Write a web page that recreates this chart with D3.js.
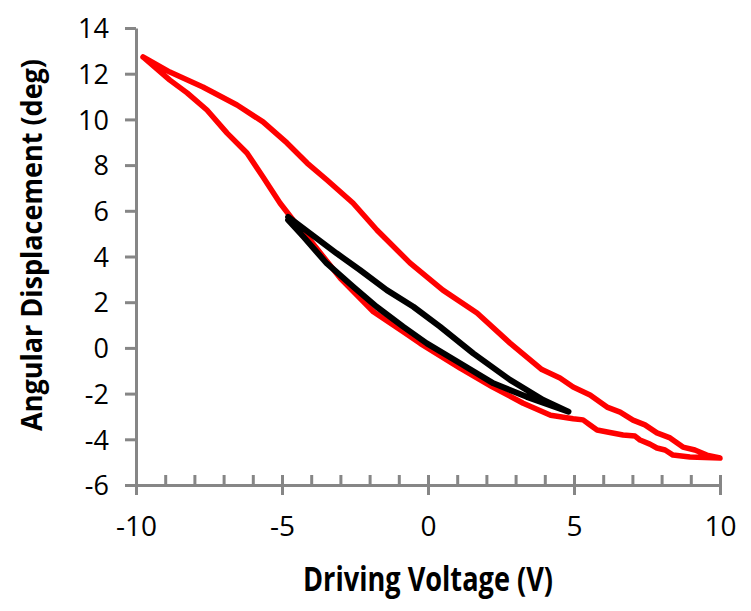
<!DOCTYPE html>
<html>
<head>
<meta charset="utf-8">
<script src="https://cdn.jsdelivr.net/npm/d3@7"></script>
<style>
  body { margin: 0; background: #fff; }
  .tick text { font-family: "Open Sans", "Liberation Sans", sans-serif; fill: #000; }
  .title { font-family: "Open Sans", "Liberation Sans", sans-serif; font-weight: bold; fill: #000; }
</style>
</head>
<body>
<div class="render"></div>
<script>
'use strict';

// red loop: driving voltage (V) and angular displacement (deg), lower branch then upper branch
var redVoltage = [-9.76, -8.84, -8.25, -7.57, -6.88, -6.20, -5.65, -5.07, -4.62, -4.04, -3.0, -1.87, -0.9, -0.27,
   1.10, 2.2, 3.26, 4.2, 4.97, 5.31, 5.55, 5.79, 6.23, 6.68, 7.09, 7.26, 7.60, 7.84, 8.12, 8.39, 8.97, 10.0,
   9.55, 9.14, 8.73, 8.29, 7.84, 7.43, 7.02, 6.58, 6.13, 5.55, 4.97, 4.52, 3.9, 2.81, 1.68, 0.51, -0.62,
   -1.75, -2.57, -3.46, -4.14, -4.83, -5.65, -6.54, -7.71, -8.84, -9.76];
var redAngle = [12.73, 11.72, 11.16, 10.41, 9.40, 8.53, 7.48, 6.34, 5.60, 4.72, 3.05, 1.58, 0.75, 0.20,
   -0.89, -1.7, -2.42, -2.95, -3.10, -3.15, -3.37, -3.59, -3.70, -3.81, -3.86, -4.03, -4.21, -4.38, -4.47, -4.69, -4.77, -4.82,
   -4.69, -4.47, -4.34, -3.94, -3.72, -3.37, -3.16, -2.81, -2.59, -2.06, -1.71, -1.32, -0.95, 0.21, 1.53, 2.53, 3.72,
   5.16, 6.34, 7.35, 8.09, 8.97, 9.89, 10.63, 11.42, 12.07, 12.73];

// black loop: upper branch then lower branch
var blackVoltage = [-4.79, -4.04, -3.13, -2.33, -1.41, -0.50, 0.41, 1.55, 2.81, 3.95, 4.81,
   3.38, 2.24, 1.10, -0.04, -0.85, -1.76, -2.56, -3.47, -4.27, -4.79];
var blackAngle = [5.73, 5.01, 4.14, 3.41, 2.53, 1.80, 0.93, -0.24, -1.40, -2.28, -2.79,
   -2.14, -1.55, -0.67, 0.20, 0.93, 1.80, 2.68, 3.70, 4.87, 5.60];

var xMajor = [-10, -5, 0, 5, 10];
var xMinor = d3.range(-10, 11, 1);
var yTicks = [-6, -4, -2, 0, 2, 4, 6, 8, 10, 12, 14];

function draw() {
   var w = 751;
   var h = 611;
   var axisColor = '#868686';
   var plain = function (d) {
      return String(d);
   };

   var xScale = d3.scaleLinear().domain([-10, 10]).range([136, 720]);
   var yScale = d3.scaleLinear().domain([-6, 14]).range([485, 28]);

   var svg = d3.select('.render').append('svg').attr('width', w).attr('height', h);

   // y axis
   var yAxis = d3.axisLeft(yScale).tickValues(yTicks).tickSize(11).tickSizeOuter(0).tickPadding(16).tickFormat(plain);
   var gy = svg.append('g').attr('transform', 'translate(136,0)').call(yAxis);
   gy.selectAll('text').style('font-size', '27px').attr('dy', '0.36em');

   // x axis: minor ticks pointing up, major ticks crossing
   var xAxisUp = d3.axisTop(xScale).tickValues(xMinor).tickSize(10).tickSizeOuter(0).tickFormat('');
   var gxu = svg.append('g').attr('transform', 'translate(0,485)').call(xAxisUp);
   var xAxis = d3.axisBottom(xScale).tickValues(xMajor).tickSize(10).tickSizeOuter(0).tickPadding(21).tickFormat(plain);
   var gx = svg.append('g').attr('transform', 'translate(0,485)').call(xAxis);
   gx.selectAll('text').style('font-size', '28px');

   [gy, gxu, gx].forEach(function (g) {
      g.select('.domain').attr('stroke', axisColor).attr('stroke-width', 3);
      g.selectAll('.tick line').attr('stroke', axisColor).attr('stroke-width', 3);
   });

   // data lines
   var line = d3.line().x(function (d) {
      return xScale(d[0]);
   }).y(function (d) {
      return yScale(d[1]);
   });
   var red = redVoltage.map(function (v, i) {
      return [v, redAngle[i]];
   });
   var black = blackVoltage.map(function (v, i) {
      return [v, blackAngle[i]];
   });
   svg.append('path').datum(red).attr('d', line).attr('fill', 'none').attr('stroke', '#ff0000')
      .attr('stroke-width', 5.5).attr('stroke-linejoin', 'round').attr('stroke-linecap', 'round');
   svg.append('path').datum(black).attr('d', line).attr('fill', 'none').attr('stroke', '#000000')
      .attr('stroke-width', 6).attr('stroke-linejoin', 'round').attr('stroke-linecap', 'round');

   // titles
   svg.append('text').text('Driving Voltage  (V)').attr('class', 'title').attr('x', 428).attr('y', 591)
      .style('font-size', '34px').style('text-anchor', 'middle')
      .attr('textLength', 250).attr('lengthAdjust', 'spacingAndGlyphs');
   svg.append('text').text('Angular Displacement (deg)').attr('class', 'title')
      .attr('transform', 'translate(42,245)rotate(-90)')
      .style('font-size', '29px').style('text-anchor', 'middle')
      .attr('textLength', 372).attr('lengthAdjust', 'spacingAndGlyphs');
}

draw();
</script>
</body>
</html>
